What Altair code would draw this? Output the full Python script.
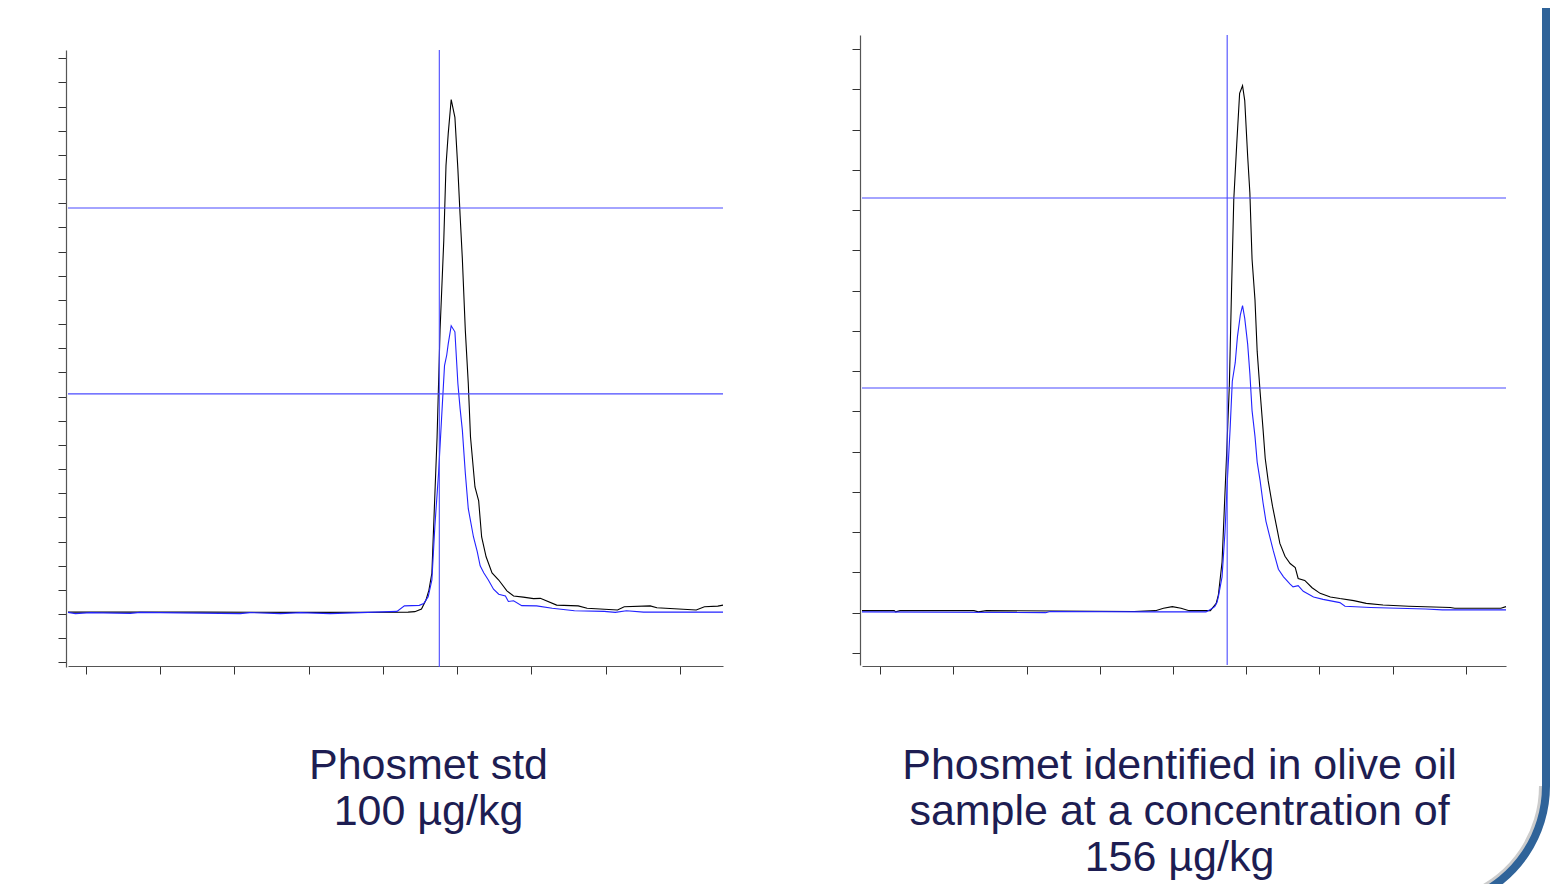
import altair as alt
import pandas as pd

# ---------------- data (axis tick units) ----------------
# Left panel: Phosmet std 100 ug/kg
LB_X = [-0.24, 1.54, 2.89, 4.34, 4.43, 4.52, 4.58, 4.62, 4.66, 4.68, 4.73, 4.77, 4.82, 4.85, 4.88,
        4.92, 4.97, 5.01, 5.04, 5.07, 5.11, 5.15, 5.18, 5.24, 5.29, 5.33, 5.39, 5.47, 5.56, 5.67,
        5.76, 5.89, 6.03, 6.12, 6.34, 6.63, 6.75, 7.16, 7.25, 7.60, 7.69, 8.22, 8.33, 8.51, 8.58]
LB_Y = [0.08, 0.08, 0.07, 0.08, 0.10, 0.21, 0.58, 0.99, 1.70, 3.33, 7.33, 11.75, 15.45, 18.56, 19.88,
        21.29, 20.55, 18.41, 16.49, 14.71, 11.75, 9.54, 7.33, 5.26, 4.68, 3.19, 2.37, 1.70, 1.41, 0.96,
        0.75, 0.70, 0.64, 0.65, 0.37, 0.34, 0.24, 0.17, 0.30, 0.34, 0.26, 0.17, 0.30, 0.33, 0.37]
LU_X = [-0.24, -0.14, 0.06, 0.60, 0.73, 1.00, 2.08, 2.21, 2.62, 2.89, 3.29, 3.70, 4.19, 4.29, 4.49,
        4.55, 4.61, 4.66, 4.70, 4.75, 4.79, 4.83, 4.86, 4.88, 4.92, 4.97, 5.01, 5.04, 5.07, 5.11,
        5.15, 5.22, 5.27, 5.31, 5.36, 5.42, 5.49, 5.56, 5.65, 5.69, 5.76, 5.87, 6.07, 6.28, 6.58,
        6.98, 7.13, 7.28, 7.51, 8.58]
LU_Y = [0.07, 0.02, 0.06, 0.03, 0.07, 0.06, 0.02, 0.06, 0.02, 0.06, 0.02, 0.06, 0.11, 0.34, 0.36,
        0.44, 0.72, 1.41, 3.64, 5.84, 8.07, 10.28, 10.72, 11.18, 11.93, 11.68, 9.54, 8.50, 7.62, 5.84,
        4.36, 3.19, 2.59, 2.00, 1.70, 1.41, 1.03, 0.82, 0.75, 0.52, 0.55, 0.35, 0.34, 0.24, 0.14,
        0.11, 0.07, 0.14, 0.08, 0.08]
L_HLINES = [16.80, 9.11]
L_VLINE = 4.76
L_XDOM = [-0.24, 8.58]
L_YDOM = [-2.19, 23.34]
L_XTICKS = list(range(0, 9))
L_YTICKS = list(range(-2, 24))

# Right panel: olive oil sample, 156 ug/kg
RB_X = [-0.25, 0.19, 0.21, 0.27, 1.28, 1.34, 1.45, 3.47, 3.76, 3.87, 3.99, 4.11, 4.22, 4.51, 4.59,
        4.62, 4.67, 4.70, 4.73, 4.77, 4.80, 4.83, 4.87, 4.91, 4.95, 4.98, 5.02, 5.05, 5.08, 5.12,
        5.15, 5.19, 5.23, 5.26, 5.30, 5.36, 5.43, 5.46, 5.53, 5.60, 5.67, 5.71, 5.80, 5.90, 6.01,
        6.15, 6.28, 6.47, 6.64, 6.87, 7.22, 7.79, 7.85, 8.48, 8.55]
RB_Y = [0.05, 0.05, 0.02, 0.05, 0.05, 0.02, 0.05, 0.03, 0.05, 0.11, 0.15, 0.11, 0.05, 0.05, 0.23,
        0.44, 1.26, 2.54, 3.83, 5.66, 8.05, 10.25, 11.62, 12.90, 13.09, 12.72, 11.34, 10.43, 8.78, 7.77,
        6.49, 5.48, 4.56, 3.83, 3.28, 2.64, 2.00, 1.72, 1.40, 1.22, 1.12, 0.85, 0.80, 0.62, 0.48,
        0.39, 0.35, 0.30, 0.23, 0.19, 0.16, 0.13, 0.11, 0.11, 0.15]
RU_X = [-0.25, 2.26, 2.32, 3.76, 4.45, 4.51, 4.57, 4.60, 4.62, 4.67, 4.71, 4.74, 4.78, 4.81, 4.85,
        4.88, 4.92, 4.95, 4.98, 5.02, 5.05, 5.08, 5.12, 5.15, 5.19, 5.23, 5.27, 5.32, 5.37, 5.44,
        5.51, 5.60, 5.64, 5.71, 5.78, 5.92, 6.05, 6.28, 6.35, 6.70, 7.45, 7.68, 8.55]
RU_Y = [0.02, 0.00, 0.03, 0.02, 0.02, 0.08, 0.15, 0.25, 0.40, 0.89, 2.00, 3.19, 4.56, 5.75, 6.21,
        6.85, 7.40, 7.63, 7.31, 6.67, 5.94, 5.02, 4.38, 3.74, 3.28, 2.73, 2.27, 1.90, 1.54, 1.08,
        0.89, 0.71, 0.64, 0.67, 0.53, 0.39, 0.33, 0.25, 0.16, 0.13, 0.09, 0.07, 0.07]
R_HLINES = [10.30, 5.58]
R_VLINE = 4.74
R_XDOM = [-0.25, 8.55]
R_YDOM = [-1.30, 14.35]
R_XTICKS = list(range(0, 9))
R_YTICKS = list(range(-1, 15))

L_CAPTION = ["Phosmet std", "100 µg/kg"]
R_CAPTION = ["Phosmet identified in olive oil", "sample at a concentration of", "156 µg/kg"]

W, H = 1542, 876
TRACE_BLUE = "#2222ff"
CURSOR_BLUE = "#4a4aff"
TEXT_COL = "#1d1d52"
FRAME_BLUE = "#2f6399"


def panel(bx, by, ux, uy, xdom, ydom, xrange, yrange, hl, vl, xt, yt, yoff):
    xs = alt.Scale(domain=xdom, range=xrange, zero=False, nice=False)
    ys = alt.Scale(domain=ydom, range=yrange, zero=False, nice=False)
    xax = alt.Axis(orient="bottom", offset=658 - H, values=xt, labels=False, title=None,
                   grid=False, tickSize=8, tickColor="#333333", domainColor="#555555",
                   domainWidth=1.2, tickWidth=1)
    yax = alt.Axis(orient="left", offset=yoff, values=yt, labels=False, title=None,
                   grid=False, tickSize=8, tickColor="#333333", domainColor="#555555",
                   domainWidth=1.2, tickWidth=1)
    tr = pd.concat([
        pd.DataFrame({"x": bx, "y": by, "s": "a_black"}),
        pd.DataFrame({"x": ux, "y": uy, "s": "b_blue"}),
    ])
    lines = alt.Chart(tr).mark_line(strokeWidth=1.1).encode(
        x=alt.X("x:Q", scale=xs, axis=xax),
        y=alt.Y("y:Q", scale=ys, axis=yax),
        color=alt.Color("s:N", scale=alt.Scale(domain=["a_black", "b_blue"],
                                               range=["#000000", TRACE_BLUE]), legend=None),
    )
    hdf = pd.DataFrame({"y": hl, "x0": [xdom[0]] * len(hl), "x1": [xdom[1]] * len(hl)})
    hrules = alt.Chart(hdf).mark_rule(color=CURSOR_BLUE, strokeWidth=1.1).encode(
        x=alt.X("x0:Q", scale=xs, axis=xax), x2="x1:Q",
        y=alt.Y("y:Q", scale=ys, axis=yax),
    )
    vdf = pd.DataFrame({"x": [vl], "y0": [ydom[0]], "y1": [ydom[1]]})
    vrule = alt.Chart(vdf).mark_rule(color=CURSOR_BLUE, strokeWidth=1.1).encode(
        x=alt.X("x:Q", scale=xs, axis=xax),
        y=alt.Y("y0:Q", scale=ys, axis=yax), y2="y1:Q",
    )
    return alt.layer(lines, hrules, vrule)


left = panel(LB_X, LB_Y, LU_X, LU_Y, L_XDOM, L_YDOM, [60, 715], [659, 42],
             L_HLINES, L_VLINE, L_XTICKS, L_YTICKS, -58)
right = panel(RB_X, RB_Y, RU_X, RU_Y, R_XDOM, R_YDOM, [854, 1498], [657, 27],
              R_HLINES, R_VLINE, R_XTICKS, R_YTICKS, -852)

dummy = pd.DataFrame({"a": [0]})
txt_style = dict(fontSize=43, font="Liberation Sans", color=TEXT_COL, align="center",
                 baseline="alphabetic", lineHeight=46)
ltxt = alt.Chart(dummy).mark_text(text=L_CAPTION, **txt_style).encode(
    x=alt.value(420.5), y=alt.value(771))
rtxt = alt.Chart(dummy).mark_text(text=R_CAPTION, **txt_style).encode(
    x=alt.value(1171.5), y=alt.value(771))

# decorative slide frame (right edge with rounded bottom corner)
shadow = alt.Chart(dummy).mark_arc(radius=118, radius2=114, theta=1.5708, theta2=2.75,
                                   color="#9a9a9a", opacity=0.5).encode(
    x=alt.value(1417), y=alt.value(778))
bar = alt.Chart(dummy).mark_rule(color=FRAME_BLUE, strokeWidth=8).encode(
    x=alt.value(1538), y=alt.value(-10), y2=alt.value(778))
arc = alt.Chart(dummy).mark_arc(radius=125, radius2=117, theta=1.5708, theta2=2.75,
                                color=FRAME_BLUE).encode(x=alt.value(1417), y=alt.value(778))

chart = alt.layer(left, right, ltxt, rtxt, shadow, bar, arc).resolve_scale(
    x="independent", y="independent"
).properties(
    width=W, height=H, padding=0, autosize=alt.AutoSizeParams(type="none")
).configure_view(stroke="transparent")

chart.save("out.html", embed_options={"renderer": "svg", "actions": False})
